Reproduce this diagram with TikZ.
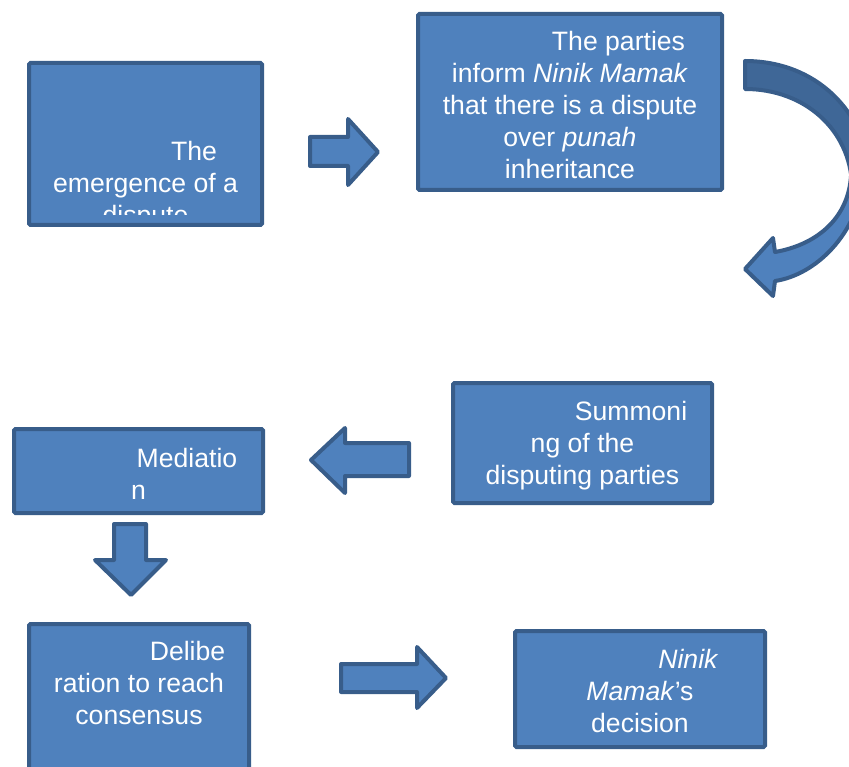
\documentclass[tikz,border=0pt]{standalone}
\usepackage{fontspec}
\setmainfont{Liberation Sans}
\definecolor{fillblue}{HTML}{4F81BD}
\definecolor{edgeblue}{HTML}{385D8A}
\definecolor{shadeblue}{HTML}{3F6797}
\begin{document}
\begin{tikzpicture}[x=1pt,y=-1pt,
  stepbox/.style={draw=edgeblue, fill=fillblue, line width=4pt, rounded corners=1.5pt, inner sep=0pt, outer sep=0pt},
  blockarrow/.style={draw=edgeblue, fill=fillblue, line width=4pt, line join=round},
  shadearrow/.style={draw=edgeblue, fill=shadeblue, line width=4pt, line join=round},
  steptext/.style={text=white, align=center, anchor=north, inner sep=0pt, font=\fontsize{26.6}{32}\selectfont}]
\useasboundingbox (0,0) rectangle (849,767);
\clip (0,0) rectangle (849,767);

% boxes
\node[stepbox, minimum width=233pt, minimum height=162pt] (b1) at (145.5,144) {};
\node[stepbox, minimum width=304pt, minimum height=176pt] (b2) at (570,102) {};
\node[stepbox, minimum width=259pt, minimum height=120pt] (b3) at (582.5,443) {};
\node[stepbox, minimum width=249pt, minimum height=84pt] (b4) at (138.5,471) {};
\node[stepbox, minimum width=220pt, minimum height=164pt] (b5) at (139,706) {};
\node[stepbox, minimum width=250pt, minimum height=116pt] (b6) at (640,689) {};

% texts
\begin{scope}
\clip (27,61) rectangle (264,215);
\node[steptext] (t1) at (145.5,137.6) {\strut\hspace*{97pt}The\\emergence of a\\dispute};
\end{scope}
\node[steptext] (t2) at (570,27.6) {\strut\hspace*{97pt}The parties\\inform \textit{Ninik Mamak}\\that there is a dispute\\over \textit{punah}\\inheritance};
\node[steptext] (t3) at (582.5,397.6) {\strut\hspace*{97pt}Summoni\\ng of the\\disputing parties};
\node[steptext] (t4) at (138.5,444.6) {\strut\hspace*{97pt}Mediatio\\n};
\node[steptext] (t5) at (139,637.6) {\strut\hspace*{97pt}Delibe\\ration to reach\\consensus};
\node[steptext] (t6) at (640,645.6) {\strut\hspace*{97pt}\textit{Ninik}\\\textit{Mamak}’s\\decision};

% block arrows
\draw[blockarrow] (310,137) -- (348,137) -- (348,119) -- (378,152) -- (348,185) -- (348,166) -- (310,166) -- cycle;
\draw[blockarrow] (409,443) -- (345,443) -- (345,428) -- (311,460) -- (345,493) -- (345,476) -- (409,476) -- cycle;
\draw[blockarrow] (114,524) -- (146,524) -- (146,560) -- (166,560) -- (131,595) -- (95,560) -- (114,560) -- cycle;
\draw[blockarrow] (341,664) -- (417,664) -- (417,647) -- (446,678) -- (417,708) -- (417,692) -- (341,692) -- cycle;

% curved arrow
\draw[shadearrow] (745,61) .. controls (815,61) and (868,110) .. (872,185) -- (852,185) .. controls (850,130) and (805,89) .. (745,89) -- cycle;
\draw[blockarrow] (851,176) .. controls (848,220) and (815,245) .. (775,252) -- (773,238) -- (745,269) -- (773,296) -- (775,281) .. controls (815,275) and (858,235) .. (864,176) -- cycle;
\end{tikzpicture}
\end{document}
